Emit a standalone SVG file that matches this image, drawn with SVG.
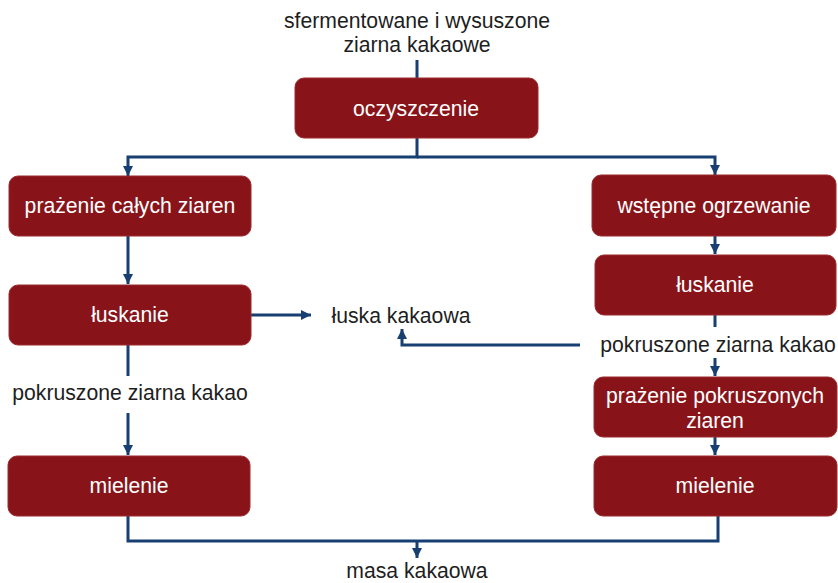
<svg xmlns="http://www.w3.org/2000/svg" width="838" height="583" viewBox="0 0 838 583">
<defs>
<style>
.box{fill:#88141a;stroke:#9c2a2e;stroke-width:1}
.bt{font-family:"Liberation Sans",Arial,sans-serif;font-size:21.2px;fill:#ffffff;text-anchor:middle}
.lt{font-family:"Liberation Sans",Arial,sans-serif;font-size:21.2px;fill:#1e1e1e;text-anchor:middle}
.ln{fill:none;stroke:#173f72;stroke-width:3}
</style>
<marker id="ah" markerUnits="userSpaceOnUse" markerWidth="12" markerHeight="12" viewBox="0 0 12 12" refX="10" refY="6" orient="auto">
<path d="M0,1 L10,6 L0,11 Z" fill="#173f72"/>
</marker>
</defs>
<rect width="838" height="583" fill="#ffffff"/>
<g id="connectors">
<path class="ln" d="M417,60 V78"/>
<path class="ln" d="M417,138 V157 H128 V176" marker-end="url(#ah)"/>
<path class="ln" d="M417,157 H715 V175" marker-end="url(#ah)"/>
<path class="ln" d="M128,236 V284" marker-end="url(#ah)"/>
<path class="ln" d="M128,345 V376"/>
<path class="ln" d="M128,413 V455" marker-end="url(#ah)"/>
<path class="ln" d="M251,315 H311" marker-end="url(#ah)"/>
<path class="ln" d="M715,236 V254" marker-end="url(#ah)"/>
<path class="ln" d="M715,315 V327"/>
<path class="ln" d="M715,358 V376" marker-end="url(#ah)"/>
<path class="ln" d="M715,437 V455" marker-end="url(#ah)"/>
<path class="ln" d="M580,345 H402 V329" marker-end="url(#ah)"/>
<path class="ln" d="M128,516 V541 H718 V516"/>
<path class="ln" d="M417,541 V558" marker-end="url(#ah)"/>
</g>
<g id="start">
<text class="lt" x="417" y="28">sfermentowane i wysuszone</text>
<text class="lt" x="417" y="52">ziarna kakaowe</text>
</g>
<g id="oczyszczenie">
<rect class="box" x="295" y="78" width="243" height="60" rx="9"/>
<text class="bt" x="416" y="116">oczyszczenie</text>
</g>
<g id="prazenie-calych">
<rect class="box" x="9" y="176" width="242" height="60" rx="9"/>
<text class="bt" x="130" y="213">prażenie całych ziaren</text>
</g>
<g id="luskanie-left">
<rect class="box" x="9" y="285" width="242" height="60" rx="9"/>
<text class="bt" x="130" y="322">łuskanie</text>
</g>
<g id="pokruszone-left">
<text class="lt" x="130" y="400">pokruszone ziarna kakao</text>
</g>
<g id="mielenie-left">
<rect class="box" x="8" y="456" width="242" height="60" rx="9"/>
<text class="bt" x="129" y="493">mielenie</text>
</g>
<g id="luska">
<text class="lt" x="401" y="323">łuska kakaowa</text>
</g>
<g id="wstepne">
<rect class="box" x="592" y="175" width="244" height="61" rx="9"/>
<text class="bt" x="714" y="213">wstępne ogrzewanie</text>
</g>
<g id="luskanie-right">
<rect class="box" x="595" y="255" width="241" height="60" rx="9"/>
<text class="bt" x="715" y="292">łuskanie</text>
</g>
<g id="pokruszone-right">
<text class="lt" x="718" y="352">pokruszone ziarna kakao</text>
</g>
<g id="prazenie-pokruszonych">
<rect class="box" x="594" y="377" width="243" height="60" rx="9"/>
<text class="bt" x="715" y="403">prażenie pokruszonych</text>
<text class="bt" x="715" y="428">ziaren</text>
</g>
<g id="mielenie-right">
<rect class="box" x="594" y="456" width="243" height="60" rx="9"/>
<text class="bt" x="715" y="493">mielenie</text>
</g>
<g id="masa">
<text class="lt" x="417" y="578">masa kakaowa</text>
</g>
</svg>
